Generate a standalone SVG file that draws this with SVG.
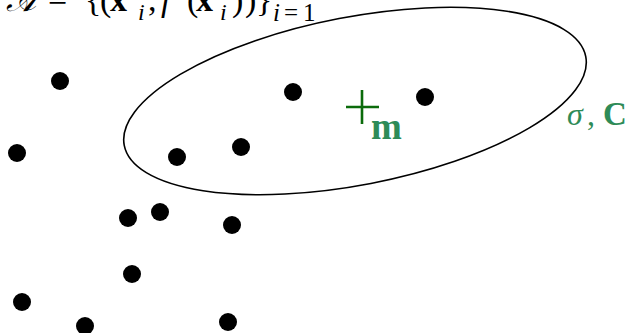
<svg xmlns="http://www.w3.org/2000/svg" width="635" height="333" viewBox="0 0 635 333">
<style>
.pt{fill:#000}
.ser{font-family:"Liberation Serif","DejaVu Serif",serif}
.it{font-style:italic}
.bf{font-weight:bold}
.grn{fill:#2e8b57}
</style>
<rect width="635" height="333" fill="#fff"/>
<g id="title" class="ser" fill="#000" font-size="34">
<text x="6" y="11" font-family="'DejaVu Serif',serif" font-style="italic" font-size="32">𝒜</text>
<text x="48" y="11">=</text>
<text x="85" y="11">{</text>
<text x="100" y="11">(</text>
<text x="110" y="11" class="bf">x</text>
<text x="138" y="20" class="it" font-size="24">i</text>
<text x="148" y="11">,</text>
<text x="161" y="11" class="it">f</text>
<text x="187" y="11">(</text>
<text x="196" y="11" class="bf">x</text>
<text x="220" y="20" class="it" font-size="24">i</text>
<text x="232" y="11">)</text>
<text x="245" y="11">)</text>
<text x="256" y="11">}</text>
<text x="273" y="21" class="it" font-size="25">i</text>
<text x="284" y="21" font-size="25">=</text>
<text x="303" y="21" font-size="25">1</text>
</g>
<g id="points">
<circle class="pt" cx="60" cy="81" r="9"/>
<circle class="pt" cx="293" cy="92" r="9"/>
<circle class="pt" cx="425" cy="97" r="9"/>
<circle class="pt" cx="17" cy="153" r="9"/>
<circle class="pt" cx="177" cy="157" r="9"/>
<circle class="pt" cx="241" cy="147" r="9"/>
<circle class="pt" cx="128" cy="218" r="9"/>
<circle class="pt" cx="160" cy="212" r="9"/>
<circle class="pt" cx="232" cy="225" r="9"/>
<circle class="pt" cx="132" cy="274" r="9"/>
<circle class="pt" cx="22" cy="302" r="9"/>
<circle class="pt" cx="85" cy="326" r="9"/>
<circle class="pt" cx="228" cy="322" r="9"/>
</g>
<g id="ellipse">
<ellipse cx="355" cy="101" rx="235" ry="84" transform="rotate(-10.9 355 101)" fill="none" stroke="#000" stroke-width="1.6"/>
</g>
<g id="mean">
<path d="M346 107H379M362 90V124" stroke="#0b6b0b" stroke-width="2.6" fill="none"/>
<text x="371" y="139" class="ser bf grn" font-size="37">m</text>
</g>
<g id="cov" class="ser grn" font-size="32">
<text x="567" y="125" class="it">σ</text>
<text x="587" y="125">,</text>
<text x="603" y="125" class="bf" font-size="33">C</text>
</g>
</svg>
